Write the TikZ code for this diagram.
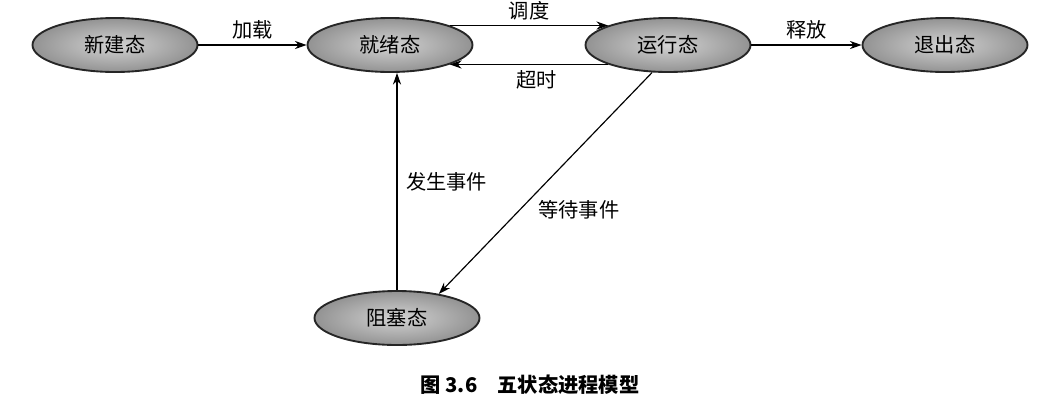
\documentclass[tikz,border=0pt]{standalone}
\usepackage{fontspec}
\setmainfont{Noto Sans CJK SC}
\usetikzlibrary{shapes.geometric,arrows.meta}
\begin{document}
\begin{tikzpicture}[x=0.03cm,y=-0.03cm,
  st/.style={ellipse,draw=black!85,line width=1.6pt,inner color=gray!35,outer color=gray!85,minimum width=165*0.03cm,minimum height=54*0.03cm,font=\LARGE},
  arr/.style={-{Stealth[length=10pt,width=7pt]},line width=1pt},
  lb/.style={font=\LARGE}]
\useasboundingbox (0,0) rectangle (1057,408);
\node[st] (new) at (115,45) {新建态};
\node[st] (ready) at (390,45) {就绪态};
\node[st] (run) at (668,45) {运行态};
\node[st] (exit) at (945,45) {退出态};
\node[st] (blk) at (397,318) {阻塞态};
\draw[arr] (new) -- (ready) node[lb,midway,above=1pt] {加载};
\draw[arr] (ready.18) -- (run.162) node[lb,midway,above=1pt] {调度};
\draw[arr] (run.-162) -- (ready.-18) node[lb,pos=0.45,below=1pt] {超时};
\draw[arr] (run) -- (exit) node[lb,midway,above=1pt] {释放};
\coordinate (rs) at (blk.north |- ready.south);
\draw[arr] (blk.north) -- (rs) node[lb,midway,right=4pt] {发生事件};
\draw[arr] (run.-120) -- (blk.30) node[lb,pos=0.62,right=12pt] {等待事件};
\node[font=\LARGE\bfseries] (cap) at (530,385) {图 3.6\quad 五状态进程模型};
\end{tikzpicture}
\end{document}
